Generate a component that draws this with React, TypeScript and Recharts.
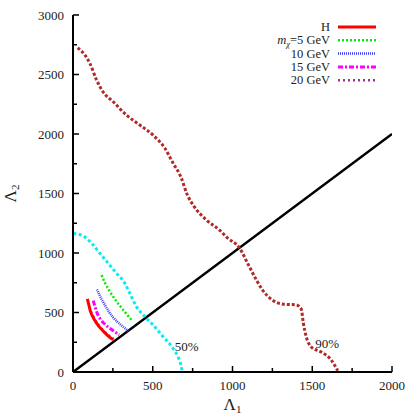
import {
  ComposedChart, Line, XAxis, YAxis, Label, ReferenceDot
} from "recharts"

type Pt = { x: number; y: number }

// contour points (Lambda1, Lambda2)
const diagonal: Pt[] = [{ x: 0, y: 0 }, { x: 2000, y: 2000 }]

const cl90: Pt[] = [
  { x: 29, y: 2724 }, { x: 75, y: 2663 }, { x: 106, y: 2593 }, { x: 148, y: 2453 },
  { x: 188, y: 2355 }, { x: 252, y: 2271 }, { x: 335, y: 2159 }, { x: 419, y: 2075 },
  { x: 502, y: 1991 }, { x: 575, y: 1882 }, { x: 627, y: 1756 }, { x: 679, y: 1630 },
  { x: 712, y: 1504 }, { x: 762, y: 1386 }, { x: 837, y: 1277 }, { x: 919, y: 1193 },
  { x: 969, y: 1126 }, { x: 1044, y: 1042 }, { x: 1100, y: 900 }, { x: 1150, y: 773 },
  { x: 1188, y: 689 }, { x: 1250, y: 605 }, { x: 1313, y: 571 }, { x: 1400, y: 563 },
  { x: 1431, y: 529 }, { x: 1444, y: 412 }, { x: 1463, y: 294 }, { x: 1494, y: 210 },
  { x: 1556, y: 168 }, { x: 1619, y: 101 }, { x: 1660, y: 10 },
]

const cl50: Pt[] = [
  { x: 2, y: 1165 }, { x: 65, y: 1142 }, { x: 117, y: 1081 }, { x: 169, y: 997 },
  { x: 221, y: 913 }, { x: 273, y: 829 }, { x: 325, y: 745 }, { x: 356, y: 661 },
  { x: 398, y: 549 }, { x: 450, y: 465 }, { x: 502, y: 395 }, { x: 565, y: 297 },
  { x: 627, y: 199 }, { x: 658, y: 129 }, { x: 679, y: 45 }, { x: 685, y: 3 },
]

const higgs: Pt[] = [
  { x: 90, y: 615 }, { x: 100, y: 560 }, { x: 110, y: 507 }, { x: 125, y: 462 },
  { x: 142, y: 423 }, { x: 160, y: 388 }, { x: 183, y: 353 }, { x: 205, y: 322 },
  { x: 225, y: 297 }, { x: 252, y: 272 },
]

const m5: Pt[] = [
  { x: 179, y: 815 }, { x: 200, y: 750 }, { x: 225, y: 690 }, { x: 252, y: 633 },
  { x: 280, y: 580 }, { x: 310, y: 530 }, { x: 340, y: 480 }, { x: 373, y: 428 },
]

const m10: Pt[] = [
  { x: 150, y: 694 }, { x: 162, y: 660 }, { x: 178, y: 615 }, { x: 194, y: 577 },
  { x: 225, y: 507 }, { x: 250, y: 462 }, { x: 277, y: 423 }, { x: 310, y: 385 },
  { x: 346, y: 345 },
]

const m15: Pt[] = [
  { x: 127, y: 600 }, { x: 140, y: 540 }, { x: 152, y: 493 }, { x: 170, y: 448 },
  { x: 194, y: 409 }, { x: 220, y: 378 }, { x: 246, y: 353 }, { x: 275, y: 325 },
  { x: 290, y: 312 },
]

const m20: Pt[] = [
  { x: 112, y: 510 }, { x: 125, y: 470 }, { x: 140, y: 432 }, { x: 165, y: 385 },
  { x: 200, y: 336 }, { x: 230, y: 300 }, { x: 255, y: 276 },
]

const xTicks = [0, 250, 500, 750, 1000, 1250, 1500, 1750, 2000]
const yTicks = [0, 250, 500, 750, 1000, 1250, 1500, 1750, 2000, 2250, 2500, 2750, 3000]

const contourLabels = [
  { x: 713, y: 218, text: "50%" },
  { x: 1594, y: 244, text: "90%" },
]

const FONT = "'Liberation Serif', 'Times New Roman', serif"

const legendRows = [
  { key: "H", color: "#ff0000", dash: undefined, width: 3 },
  { key: "m5", color: "#00ee00", dash: "2 2", width: 2.5 },
  { key: "10 GeV", color: "#3a3aff", dash: "1 1", width: 2.5 },
  { key: "15 GeV", color: "#ff00ff", dash: "5 2 2 2", width: 3 },
  { key: "20 GeV", color: "#a0309a", dash: "2 3", width: 2.5 },
]

const tickLen = (v: number) => (v % 500 === 0 ? 6 : 4)

const BottomTick = ({ x, y, payload }: any) => {
  const v = payload.value
  return (
    <g>
      <line x1={x} y1={y} x2={x} y2={y - tickLen(v)} stroke="#000" strokeWidth={1.5} />
      {v % 500 === 0 && (
        <text x={x} y={y + 18} textAnchor="middle" fontFamily={FONT} fontSize={13} fill="#222">{v}</text>
      )}
    </g>
  )
}

const TopTick = ({ x, y, payload }: any) => (
  <line x1={x} y1={y} x2={x} y2={y + tickLen(payload.value)} stroke="#000" strokeWidth={1.5} />
)

const LeftTick = ({ x, y, payload }: any) => {
  const v = payload.value
  return (
    <g>
      <line x1={x} y1={y} x2={x + tickLen(v)} y2={y} stroke="#000" strokeWidth={1.5} />
      {v % 500 === 0 && (
        <text x={x - 9} y={y + 4.5} textAnchor="end" fontFamily={FONT} fontSize={13} fill="#222">{v}</text>
      )}
    </g>
  )
}

const RightTick = ({ x, y, payload }: any) => (
  <line x1={x} y1={y} x2={x - tickLen(payload.value)} y2={y} stroke="#000" strokeWidth={1.5} />
)

// legend drawn as a plain overlay so it takes no room from the plot
const LegendBox = () => (
  <svg width={200} height={80} style={{ position: "absolute", left: 200, top: 15 }}>
    {legendRows.map((r, i) => {
      const cy = 12 + i * 13.3
      return (
        <g key={r.key}>
          <text x={130} y={cy + 4} textAnchor="end" fontFamily={FONT} fontSize={12.5} fill="#222">
            {r.key === "m5" ? (
              <>
                <tspan fontStyle="italic">m</tspan>
                <tspan fontStyle="italic" fontSize={8.5} dy={2.5}>χ</tspan>
                <tspan dy={-2.5}>=5 GeV</tspan>
              </>
            ) : r.key}
          </text>
          <line x1={138} x2={176} y1={cy} y2={cy} stroke={r.color} strokeWidth={r.width} strokeDasharray={r.dash} />
        </g>
      )
    })}
  </svg>
)

const axisLine = { stroke: "#000", strokeWidth: 2 }

export default function App() {
  return (
    <div style={{ position: "absolute", left: 0, top: 0, width: 415, height: 415, background: "#fff" }}>
      <ComposedChart width={415} height={415} margin={{ top: 15, right: 23, bottom: 0, left: 0 }}>
        <XAxis
          dataKey="x" type="number" domain={[0, 2000]} ticks={xTicks} interval={0}
          height={43} tickSize={0} tickMargin={0} axisLine={axisLine} tick={<BottomTick />}
          allowDataOverflow
        >
          <Label
            content={({ viewBox }: any) => (
              <text x={viewBox.x + viewBox.width / 2} y={410} textAnchor="middle" fontFamily={FONT} fontSize={17} fill="#222">
                Λ<tspan fontSize={11} dy={3}>1</tspan>
              </text>
            )}
          />
        </XAxis>
        <XAxis
          xAxisId="top" orientation="top" type="number" domain={[0, 2000]} ticks={xTicks} interval={0}
          height={0} tickSize={0} tickMargin={0} axisLine={axisLine} tick={<TopTick />} allowDataOverflow
        />
        <YAxis
          type="number" domain={[0, 3000]} ticks={yTicks} interval={0} width={73}
          tickSize={0} tickMargin={0} axisLine={axisLine} tick={<LeftTick />} allowDataOverflow
        >
          <Label
            content={({ viewBox }: any) => {
              const cy = viewBox.y + viewBox.height / 2
              return (
                <text x={16} y={cy} transform={`rotate(-90 16 ${cy})`} textAnchor="middle" fontFamily={FONT} fontSize={17} fill="#222">
                  Λ<tspan fontSize={11} dy={3}>2</tspan>
                </text>
              )
            }}
          />
        </YAxis>
        <YAxis
          yAxisId="right" orientation="right" type="number" domain={[0, 3000]} ticks={yTicks} interval={0}
          width={0} tickSize={0} tickMargin={0} axisLine={axisLine} tick={<RightTick />} allowDataOverflow
        />

        <Line data={diagonal} dataKey="y" type="linear" stroke="#000" strokeWidth={2.5} dot={false} isAnimationActive={false} />
        <Line data={cl90} dataKey="y" type="monotone" stroke="#b02a2a" strokeWidth={3} strokeDasharray="3 2" dot={false} isAnimationActive={false} />
        <Line data={cl50} dataKey="y" type="monotone" stroke="#00f0f0" strokeWidth={3} strokeDasharray="3 2.5" dot={false} isAnimationActive={false} />
        <Line data={m20} dataKey="y" type="monotone" stroke="#a0309a" strokeWidth={2.5} strokeDasharray="2 3" dot={false} isAnimationActive={false} />
        <Line data={m5} dataKey="y" type="monotone" stroke="#00ee00" strokeWidth={2.5} strokeDasharray="2 2" dot={false} isAnimationActive={false} />
        <Line data={m10} dataKey="y" type="monotone" stroke="#3a3aff" strokeWidth={2.5} strokeDasharray="1 1" dot={false} isAnimationActive={false} />
        <Line data={m15} dataKey="y" type="monotone" stroke="#ff00ff" strokeWidth={3} strokeDasharray="5 2 2 2" dot={false} isAnimationActive={false} />
        <Line data={higgs} dataKey="y" type="monotone" stroke="#ff0000" strokeWidth={3} dot={false} isAnimationActive={false} />

        {contourLabels.map((c) => (
          <ReferenceDot
            key={c.text} x={c.x} y={c.y} r={1} fill="none" stroke="none"
            label={{ value: c.text, position: "center", fontFamily: FONT, fontSize: 13, fill: "#222" }}
          />
        ))}
      </ComposedChart>
      <LegendBox />
    </div>
  )
}
